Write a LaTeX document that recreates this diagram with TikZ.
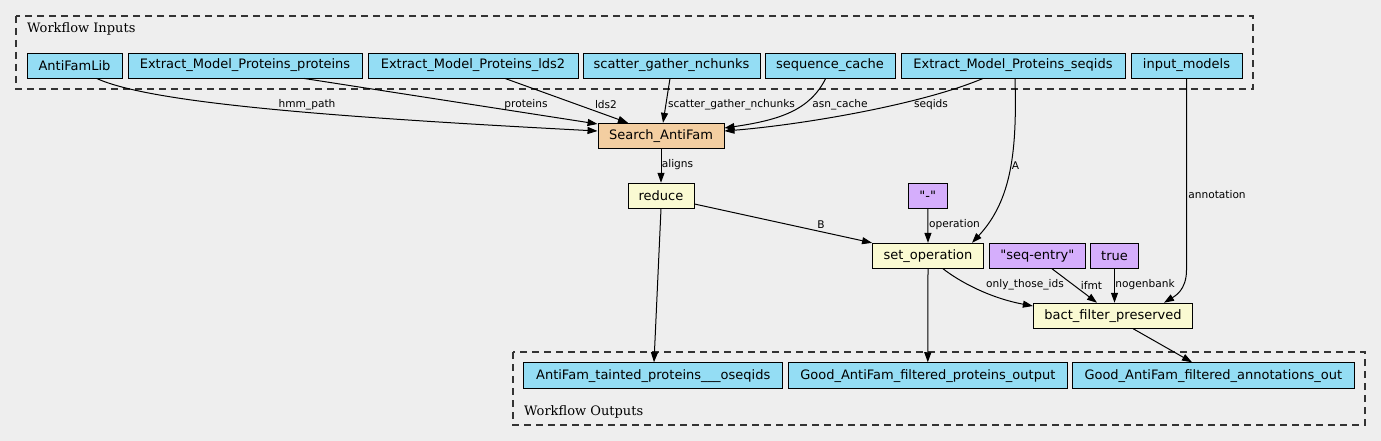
\documentclass[tikz,border=0pt]{standalone}
\usepackage{fontspec}
\setmainfont{DejaVu Sans}
\newfontfamily\nfont{DejaVu Sans}
\newfontfamily\clfont{DejaVu Serif}
\usetikzlibrary{arrows.meta,calc}
\definecolor{bg}{HTML}{EEEEEE}
\definecolor{inblue}{HTML}{94DDF4}
\definecolor{toolor}{HTML}{F3CEA1}
\definecolor{stepyel}{HTML}{FAFAD2}
\definecolor{constpur}{HTML}{D5AEFC}
\begin{document}
\begin{tikzpicture}[x=1pt,y=-1pt,
 box/.style={draw=black,line width=0.9pt,minimum height=25pt,inner sep=0pt,font=\nfont\fontsize{13}{15}\selectfont},
 io/.style={box,fill=inblue},
 tool/.style={box,fill=toolor},
 wstep/.style={box,fill=stepyel},
 cst/.style={box,fill=constpur},
 lbl/.style={inner sep=0pt,font=\nfont\fontsize{10.6}{12}\selectfont},
 conn/.style={line width=1pt,-{Triangle[length=10pt,width=7pt]}},
 cluster/.style={draw=black!80,line width=1.2pt,dash pattern=on 7pt off 5pt},
 cllabel/.style={inner sep=0pt,anchor=west,font=\clfont\fontsize{13}{15}\selectfont}]
\fill[bg] (0,0) rectangle (1381,441);
\useasboundingbox (0,0) rectangle (1381,441);

% clusters
\draw[cluster] (16,16) rectangle (1253,89);
\node[cllabel] (inlabel) at (27,28.5) {Workflow Inputs};
\draw[cluster] (513,352) rectangle (1365,425);
\node[cllabel] (outlabel) at (524,412) {Workflow Outputs};

% inputs
\node[io,minimum width=95pt]  (antifamlib) at (74.5,65.5) {AntiFamLib};
\node[io,minimum width=234pt] (empprot)    at (245,65.5) {Extract\_Model\_Proteins\_proteins};
\node[io,minimum width=210pt] (emplds)     at (473,65.5) {Extract\_Model\_Proteins\_lds2};
\node[io,minimum width=177pt] (scatter)    at (671.5,65.5) {scatter\_gather\_nchunks};
\node[io,minimum width=130pt] (seqcache)   at (830,65.5) {sequence\_cache};
\node[io,minimum width=224pt] (empseqids)  at (1013,65.5) {Extract\_Model\_Proteins\_seqids};
\node[io,minimum width=111pt] (inmodels)   at (1186.5,65.5) {input\_models};

% steps
\node[tool,minimum width=126pt] (search) at (661,135.8) {Search\_AntiFam};
\node[wstep,minimum width=66pt] (reduce) at (661,195.7) {reduce};
\node[cst,minimum width=38.5pt] (dash) at (927.8,195.8) {"-"};
\node[wstep,minimum width=111pt] (setop) at (928,255.8) {set\_operation};
\node[cst,minimum width=96pt] (seqentry) at (1037.3,255.8) {"seq-entry"};
\node[cst,minimum width=48.4pt] (true) at (1114.5,255.8) {true};
\node[wstep,minimum width=159.4pt] (bact) at (1113,315.7) {bact\_filter\_preserved};

% outputs
\node[io,minimum width=259pt,minimum height=26pt] (tainted) at (653.2,375.7) {AntiFam\_tainted\_proteins\_\_\_oseqids};
\node[io,minimum width=279pt,minimum height=26pt] (goodprot) at (927.8,375.7) {Good\_AntiFam\_filtered\_proteins\_output};
\node[io,minimum width=282pt,minimum height=26pt] (goodann) at (1213.3,375.7) {Good\_AntiFam\_filtered\_annotations\_out};

% connectors
\draw[conn] ($(antifamlib.south)+(22.2,0)$) .. controls (150,103) and (330,117) .. ($(search.west)+(0,-4.8)$);
\draw[conn] ($(empprot.south)+(59,0)$) -- ($(search.west)+(0,-11.8)$);
\draw[conn] ($(emplds.south)+(32,0)$) -- ($(search.north)+(-33,0)$);
\draw[conn] ($(scatter.south)+(-1.5,0)$) -- ($(search.north)+(2,0)$);
\draw[conn] ($(seqcache.south)+(-4.3,0)$) .. controls (810,110) and (780,120) .. ($(search.east)+(0,-7.8)$);
\draw[conn] ($(empseqids.south)+(-30,0)$) .. controls (920,105) and (800,125) .. ($(search.east)+(0,-4.8)$);
\draw[conn] (search.south) -- (reduce.north);
\draw[conn] ($(reduce.east)+(0,8.3)$) -- (setop.north west);
\draw[conn] (dash.south) -- (setop.north);
\draw[conn] ($(empseqids.south)+(2,0)$) .. controls (1017,150) and (1012,200) .. ($(setop.north)+(44,0)$);
\draw[conn] ($(setop.south)+(15,0)$) .. controls (960,282) and (990,298) .. ($(bact.west)+(0,-9.7)$);
\draw[conn] ($(seqentry.south)+(14.7,0)$) -- ($(bact.north)+(-16,0)$);
\draw[conn] (true.south) -- (true.south |- bact.north);
\draw[conn] (inmodels.south) -- (1186.5,270) .. controls (1186.5,290) and (1175,296) .. ($(bact.north)+(51,0)$);
\draw[conn] (reduce.south) -- ($(tainted.north)+(0.8,0)$);
\draw[conn] (setop.south) -- (goodprot.north);
\draw[conn] ($(bact.south)+(20,0)$) -- ($(goodann.north)+(-21.3,0)$);

% labels
\node[lbl] (l1) at (307,105) {hmm\_path};
\node[lbl] (l2) at (526,105) {proteins};
\node[lbl] (l3) at (606,105) {lds2};
\node[lbl] (l4) at (731.5,105) {scatter\_gather\_nchunks};
\node[lbl] (l5) at (840,105) {asn\_cache};
\node[lbl] (l6) at (931,105) {seqids};
\node[lbl] (l7) at (677.5,165) {aligns};
\node[lbl] (l8) at (1015.5,166) {A};
\node[lbl] (l9) at (1217,195) {annotation};
\node[lbl] (l10) at (821,225) {B};
\node[lbl] (l11) at (954.5,225) {operation};
\node[lbl] (l12) at (1025,285) {only\_those\_ids};
\node[lbl] (l13) at (1091.5,285) {ifmt};
\node[lbl] (l14) at (1145,285) {nogenbank};
\end{tikzpicture}
\end{document}
